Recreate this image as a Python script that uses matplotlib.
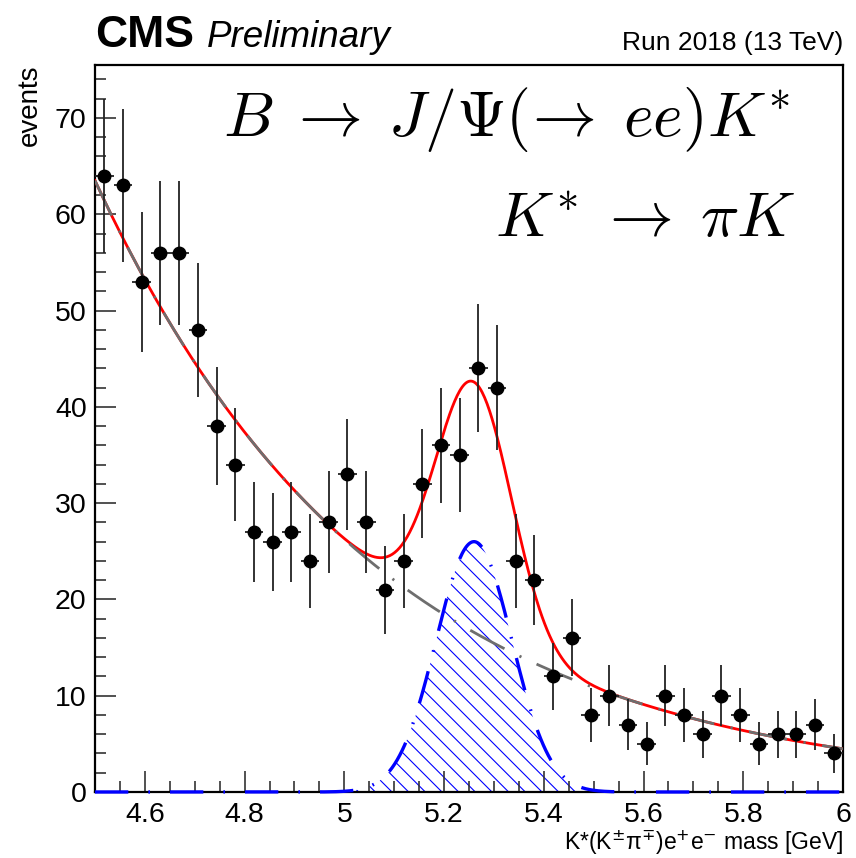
import numpy as np
import matplotlib
matplotlib.use('Agg')
import matplotlib.pyplot as plt
from matplotlib.ticker import MultipleLocator

plt.rcParams['font.family'] = ['Liberation Sans', 'DejaVu Sans']
plt.rcParams['hatch.color'] = 'blue'
plt.rcParams['hatch.linewidth'] = 0.8

# binned data: 40 bins between 4.5 and 6.0 GeV
mass_lo, mass_hi, n_bins = 4.5, 6.0, 40
counts = [64, 63, 53, 56, 56, 48, 38, 34, 27, 26,
          27, 24, 28, 33, 28, 21, 24, 32, 36, 35,
          44, 42, 24, 22, 12, 16, 8, 10, 7, 5,
          10, 8, 6, 10, 8, 5, 6, 6, 7, 4]

# fit result (exponential background + gaussian signal)
bkg_at_lo = 63.5      # events/bin at 4.5 GeV
bkg_slope = -1.767    # 1/GeV
sig_peak = 26.0       # events/bin at peak
sig_mean = 5.26       # GeV
sig_width = 0.076     # GeV

edges = np.linspace(mass_lo, mass_hi, n_bins + 1)
centers = 0.5 * (edges[:-1] + edges[1:])
half_width = 0.5 * (edges[1] - edges[0])
counts = np.array(counts, dtype=float)

x = np.linspace(mass_lo, mass_hi, 600)
bkg = bkg_at_lo * np.exp(bkg_slope * (x - mass_lo))
sig = sig_peak * np.exp(-0.5 * ((x - sig_mean) / sig_width) ** 2)
total = bkg + sig

fig = plt.figure(figsize=(8.56, 8.58), dpi=100)
ax = fig.add_axes([95 / 856, 1 - 792 / 858, 748 / 856, 727 / 858])

ax.fill_between(x, 0, sig, where=sig > 0.05, facecolor='none', edgecolor='blue',
                hatch='\\\\', linewidth=0, zorder=1)
# signal component, drawn unclipped so the flat part shows along the x axis
ax.plot(x, sig, color='blue', linewidth=2.4, dashes=(10, 6, 0.5, 6), zorder=3, clip_on=False)
ax.plot(x, total, color='red', linewidth=2.0, zorder=3.1)
ax.plot(x, bkg, color='#6e6e6e', linewidth=2.0, dashes=(14, 6, 0.8, 6), zorder=3.2)

ax.errorbar(centers, counts, xerr=half_width, yerr=np.sqrt(counts),
            fmt='o', color='black', ecolor='#222222', elinewidth=1.3,
            markersize=9, capsize=0, zorder=5)

ax.set_xlim(mass_lo, mass_hi)
ax.set_ylim(0, 75.5)
ax.xaxis.set_major_locator(MultipleLocator(0.2))
ax.xaxis.set_minor_locator(MultipleLocator(0.05))
ax.yaxis.set_major_locator(MultipleLocator(10))
ax.yaxis.set_minor_locator(MultipleLocator(2))
ax.xaxis.set_major_formatter(plt.FuncFormatter(lambda v, p: f'{v:g}'))
ax.tick_params(which='both', direction='in', top=False, right=False,
               labelsize=20.5, width=1.2, color='#333333')
ax.tick_params(which='major', length=15)
ax.tick_params(which='minor', length=8)
ax.tick_params(axis='x', pad=7)
ax.tick_params(axis='y', pad=6)
for spine in ax.spines.values():
    spine.set_linewidth(1.6)

fig.text(843 / 856, 1 - 850 / 858, 'K*(K$^{\\pm}$π$^{\\mp}$)e$^{+}$e$^{\\mathrm{-}}$ mass [GeV]',
         fontsize=16.5, ha='right', va='baseline')
fig.text(30 / 856, 1 - 65 / 858, 'events', fontsize=20, rotation=90, ha='center', va='top')

ax.text(0.929, 0.902, r'$B\;\rightarrow\;J/\Psi(\!\rightarrow\; ee)K^{*}$', transform=ax.transAxes,
        fontsize=46, ha='right', va='baseline', math_fontfamily='cm')
ax.text(0.937, 0.763, r'$K^{*}\;\rightarrow\;\pi K$', transform=ax.transAxes,
        fontsize=46, ha='right', va='baseline', math_fontfamily='cm')

fig.text(95 / 856, 1 - 47 / 858, 'CMS', fontsize=32, fontweight='bold', ha='left', va='baseline')
fig.text(207 / 856, 1 - 47 / 858, 'Preliminary', fontsize=26.5, fontstyle='italic', ha='left',
         va='baseline')
fig.text(843 / 856, 1 - 50 / 858, 'Run 2018 (13 TeV)', fontsize=19, ha='right', va='baseline')

fig.savefig('out.png', dpi=100)
